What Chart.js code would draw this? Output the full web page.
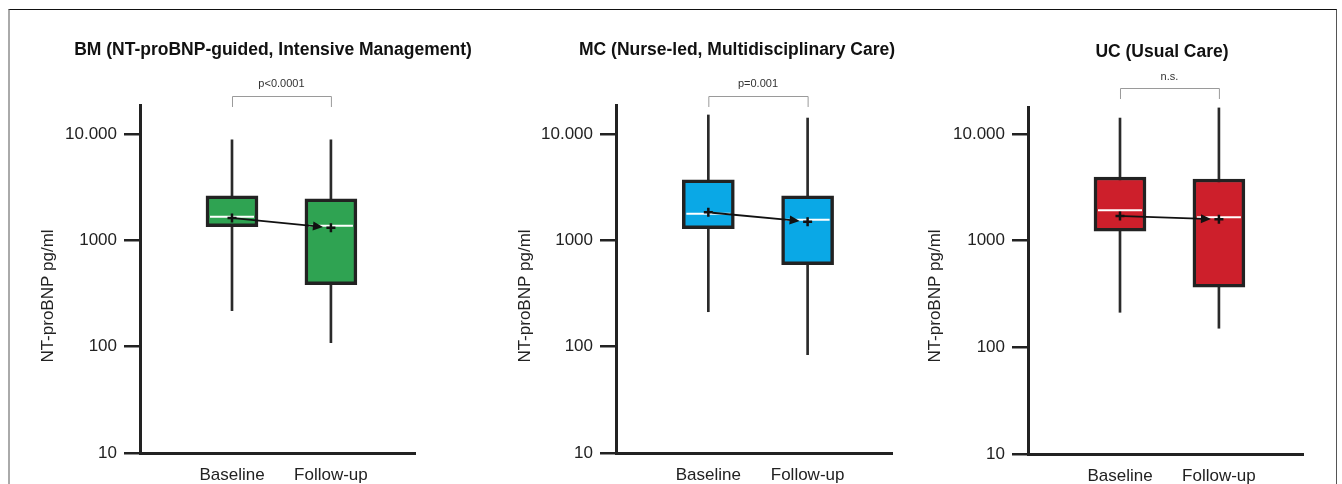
<!DOCTYPE html>
<html>
<head>
<meta charset="utf-8">
<script src="https://cdn.jsdelivr.net/npm/chart.js@4"></script>
<style>
  html, body { margin: 0; padding: 0; background: #fff; }
  body { width: 1342px; height: 484px; position: relative; overflow: hidden; }
  .frame { position: absolute; left: 8px; top: 9px; width: 1326px; height: 490px;
           border-top: 1px solid #111; border-left: 2px solid #aaa; border-right: 1px solid #555; }
  canvas { position: absolute; top: 0; }
</style>
</head>
<body>
<div class="frame"></div>
<canvas id="bm" width="500" height="484" style="left:0px"></canvas>
<canvas id="mc" width="440" height="484" style="left:460px"></canvas>
<canvas id="uc" width="442" height="484" style="left:900px"></canvas>
<script>
// NT-proBNP (pg/ml) box plots, baseline vs follow-up, per care group
const groups = ["BM (NT-proBNP-guided, Intensive Management)", "MC (Nurse-led, Multidisciplinary Care)", "UC (Usual Care)"];
const timepoints = ["Baseline", "Follow-up"];
const whiskerLow  = [[218, 109], [213, 84], [213, 151]];
const q1          = [[1340, 382], [1283, 589], [1227, 366]];
const median      = [[1660, 1370], [1775, 1556], [1930, 1660]];
const q3          = [[2620, 2450], [3700, 2620], [3950, 3780]];
const whiskerHigh = [[8800, 8800], [15070, 14100], [14100, 17550]];
const means       = [[1620, 1310], [1830, 1493], [1700, 1585]];
const pLabels = ["p<0.0001", "p=0.001", "n.s."];
const tickValues = [10, 100, 1000, 10000];
const tickLabels = ["10", "100", "1000", "10.000"];
const yTitle = "NT-proBNP pg/ml";

const FONT = "'Liberation Sans', Arial, sans-serif";

// layout of each panel (canvas pixels)
const panels = [
  { id: "bm", color: "#2fa352", width: 500, area: { left: 140, right: 415, top: 105, bottom: 453 },
    titleX: 273, titleY: 50, yTitleX: 48, bracket: [96, 107, 84], yMax: 18700 },
  { id: "mc", color: "#0aa8e6", width: 440, area: { left: 156, right: 432, top: 105, bottom: 453 },
    titleX: 277, titleY: 50, yTitleX: 65, bracket: [96, 107, 84], yMax: 18700 },
  { id: "uc", color: "#cd1f2b", width: 442, area: { left: 128, right: 403, top: 107, bottom: 454 },
    titleX: 262, titleY: 52, yTitleX: 35, bracket: [88, 99, 77], yMax: 17900 }
];

function decor(p, i) {
  return {
    id: "decor" + i,
    afterDatasetDraw(chart, args) {
      if (args.index !== 1) return;
      // white median lines inside the boxes
      const ctx = chart.ctx, xs = chart.scales.x, ys = chart.scales.y;
      ctx.save();
      ctx.strokeStyle = "#fff";
      ctx.lineWidth = 2;
      median[i].forEach((m, j) => {
        const x = xs.getPixelForValue(j), y = ys.getPixelForValue(m);
        ctx.beginPath();
        ctx.moveTo(x - 22, y);
        ctx.lineTo(x + 22, y);
        ctx.stroke();
      });
      ctx.restore();
    },
    afterDatasetsDraw(chart) {
      // arrow between the means
      const ctx = chart.ctx, xs = chart.scales.x, ys = chart.scales.y;
      const x0 = xs.getPixelForValue(0), y0 = ys.getPixelForValue(means[i][0]);
      const x1 = xs.getPixelForValue(1), y1 = ys.getPixelForValue(means[i][1]);
      const len = Math.hypot(x1 - x0, y1 - y0);
      const ux = (x1 - x0) / len, uy = (y1 - y0) / len;
      const tx = x1 - ux * 8, ty = y1 - uy * 8;
      ctx.save();
      ctx.strokeStyle = "#111";
      ctx.fillStyle = "#111";
      ctx.lineWidth = 1.8;
      ctx.beginPath();
      ctx.moveTo(x0 + ux * 4, y0 + uy * 4);
      ctx.lineTo(tx - ux * 6, ty - uy * 6);
      ctx.stroke();
      ctx.beginPath();
      ctx.moveTo(tx, ty);
      ctx.lineTo(tx - ux * 10 - uy * 4.5, ty - uy * 10 + ux * 4.5);
      ctx.lineTo(tx - ux * 10 + uy * 4.5, ty - uy * 10 - ux * 4.5);
      ctx.closePath();
      ctx.fill();
      ctx.restore();
    },
    afterDraw(chart) {
      const ctx = chart.ctx, xs = chart.scales.x;
      ctx.save();
      // panel title
      ctx.fillStyle = "#111";
      ctx.font = "bold 17.5px " + FONT;
      ctx.textAlign = "center";
      ctx.textBaseline = "middle";
      ctx.fillText(groups[i], p.titleX, p.titleY);
      // y axis title
      ctx.save();
      ctx.translate(p.yTitleX, 296);
      ctx.rotate(-Math.PI / 2);
      ctx.fillStyle = "#222";
      ctx.font = "17px " + FONT;
      ctx.fillText(yTitle, 0, 0);
      ctx.restore();
      // significance bracket
      const bx0 = xs.getPixelForValue(0), bx1 = xs.getPixelForValue(1);
      ctx.strokeStyle = "#9a9a9a";
      ctx.lineWidth = 1;
      ctx.beginPath();
      ctx.moveTo(bx0 + 0.5, p.bracket[1]);
      ctx.lineTo(bx0 + 0.5, p.bracket[0] + 0.5);
      ctx.lineTo(bx1 + 0.5, p.bracket[0] + 0.5);
      ctx.lineTo(bx1 + 0.5, p.bracket[1]);
      ctx.stroke();
      ctx.fillStyle = "#333";
      ctx.font = "11px " + FONT;
      ctx.fillText(pLabels[i], (bx0 + bx1) / 2, p.bracket[2]);
      ctx.restore();
    }
  };
}

function drawPanel(p, i) {
  const xs = timepoints.map((t, j) => j);
  new Chart(p.id, {
    type: "bar",
    data: {
      datasets: [
        {
          label: "range",
          data: xs.map(j => ({ x: j, y: [whiskerLow[i][j], whiskerHigh[i][j]] })),
          backgroundColor: "#2a2a2a",
          barThickness: 2,
          grouped: false,
          order: 3
        },
        {
          label: "IQR",
          data: xs.map(j => ({ x: j, y: [q1[i][j], q3[i][j]] })),
          backgroundColor: p.color,
          borderColor: "#222",
          borderWidth: 3.5,
          borderSkipped: false,
          barThickness: 52,
          grouped: false,
          order: 2
        },
        {
          type: "line",
          label: "mean",
          data: xs.map(j => ({ x: j, y: means[i][j] })),
          showLine: false,
          pointStyle: "cross",
          pointRadius: 4.5,
          pointBorderWidth: 2.5,
          borderColor: "#111",
          backgroundColor: "#111",
          order: 1
        }
      ]
    },
    options: {
      responsive: false,
      animation: false,
      events: [],
      layout: { padding: { left: 10, right: p.width - p.area.right, top: p.area.top, bottom: 0 } },
      plugins: { legend: { display: false }, tooltip: { enabled: false }, title: { display: false } },
      scales: {
        x: {
          type: "linear",
          min: -0.93,
          max: 1.85,
          offset: false,
          grid: { display: false },
          border: { display: true, width: 3, color: "#222" },
          afterBuildTicks: s => { s.ticks = xs.map(v => ({ value: v })); },
          afterFit: s => { s.height = 484 - p.area.bottom; },
          ticks: {
            callback: v => timepoints[v],
            font: { size: 17, family: FONT },
            color: "#222",
            padding: 4,
            autoSkip: false,
            maxRotation: 0
          }
        },
        y: {
          type: "logarithmic",
          min: 10,
          max: p.yMax,
          grid: { drawOnChartArea: false, drawTicks: true, tickLength: 16, color: "#222", lineWidth: 2.5 },
          border: { display: true, width: 3, color: "#222" },
          afterBuildTicks: s => { s.ticks = tickValues.map(v => ({ value: v })); },
          afterFit: s => { s.width = p.area.left - 10; },
          ticks: {
            callback: v => tickLabels[tickValues.indexOf(v)],
            font: { size: 17, family: FONT },
            color: "#222",
            padding: 7,
            autoSkip: false
          }
        }
      }
    },
    plugins: [decor(p, i)]
  });
}

panels.forEach(drawPanel);
</script>
</body>
</html>
